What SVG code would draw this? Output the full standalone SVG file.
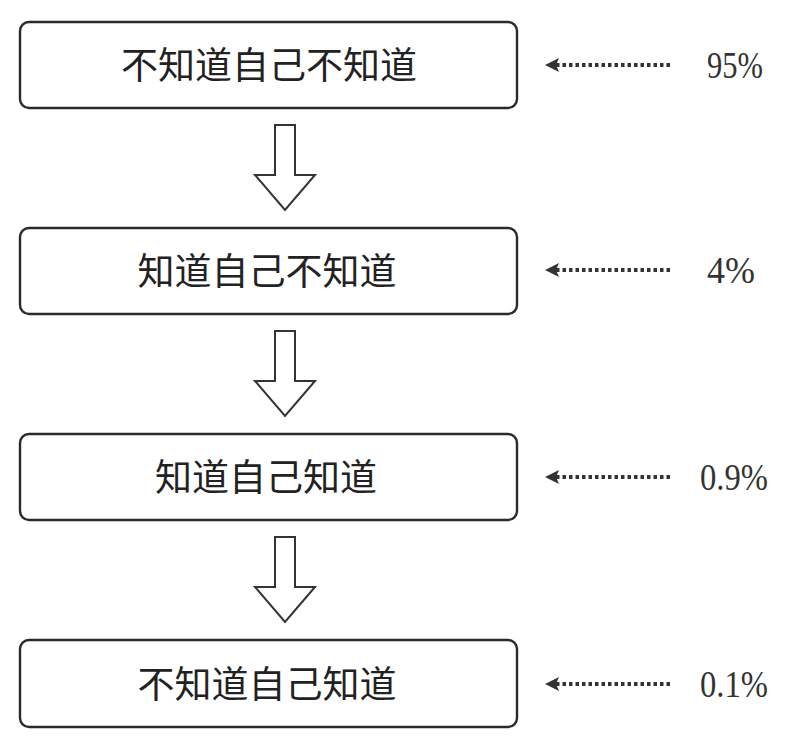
<svg xmlns="http://www.w3.org/2000/svg" width="805" height="737" viewBox="0 0 805 737">
<defs>
<style>
.box{fill:#fff;stroke:#2a2a2a;stroke-width:2.4}
.lbl{font-family:"Noto Sans CJK SC","Noto Sans CJK TC",sans-serif;font-size:37px;fill:#222;text-anchor:middle}
.pct{font-family:"Liberation Serif",serif;font-size:37px;fill:#333;text-anchor:middle}
.flow{fill:#fff;stroke:#333;stroke-width:2;stroke-linejoin:miter}
.dot{fill:none;stroke:#333;stroke-width:4;stroke-dasharray:3.5 3}
.dhead{fill:#333}
</style>
<g id="darrow"><path class="flow" d="M275,125 H295 V175 H315 L285,210 L255,175 H275 Z"/></g>
<g id="larrow"><line class="dot" x1="556" y1="0" x2="673" y2="0"/><path class="dhead" d="M545,0 L559,-7 L556,0 L559,7 Z"/></g>
</defs>
<rect width="805" height="737" fill="#fff"/>
<g id="connectors">
<use href="#darrow"/>
<use href="#darrow" y="206"/>
<use href="#darrow" y="412"/>
<use href="#larrow" y="65"/>
<use href="#larrow" y="270"/>
<use href="#larrow" y="477"/>
<use href="#larrow" y="684"/>
</g>
<g id="node1"><rect class="box" x="20" y="22" width="497" height="86" rx="9"/><text class="lbl" x="269" y="79">不知道自己不知道</text></g>
<g id="node2"><rect class="box" x="20" y="228" width="497" height="86" rx="9"/><text class="lbl" x="267" y="285">知道自己不知道</text></g>
<g id="node3"><rect class="box" x="20" y="434" width="497" height="86" rx="9"/><text class="lbl" x="266" y="491">知道自己知道</text></g>
<g id="node4"><rect class="box" x="20" y="640" width="497" height="87" rx="9"/><text class="lbl" x="267" y="698">不知道自己知道</text></g>
<g id="pcts">
<text class="pct" x="735" y="78" textLength="56" lengthAdjust="spacingAndGlyphs">95%</text>
<text class="pct" x="731" y="283" textLength="48" lengthAdjust="spacingAndGlyphs">4%</text>
<text class="pct" x="734" y="490" textLength="68" lengthAdjust="spacingAndGlyphs">0.9%</text>
<text class="pct" x="734" y="697" textLength="68" lengthAdjust="spacingAndGlyphs">0.1%</text>
</g>
</svg>
